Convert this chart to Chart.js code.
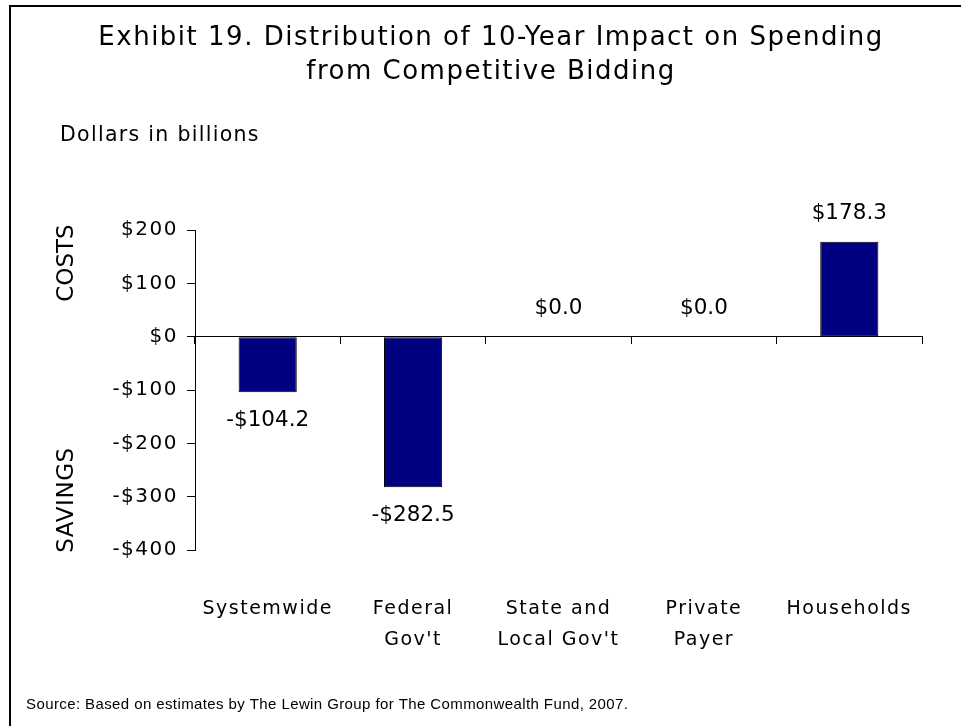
<!DOCTYPE html>
<html>
<head>
<meta charset="utf-8">
<script src="https://cdn.jsdelivr.net/npm/chart.js@4.4.1/dist/chart.umd.min.js"></script>
<style>
  html, body { margin: 0; padding: 0; background: #fff; overflow: hidden; }
</style>
</head>
<body>
<canvas id="impactChart" width="961" height="726"></canvas>
<script>
// Data (dollars in billions)
const categories = ['Systemwide', ['Federal', "Gov't"], ['State and', "Local Gov't"], ['Private', 'Payer'], 'Households'];
const impact = [-104.2, -282.5, 0.0, 0.0, 178.3];
const yTicks = [-400, -300, -200, -100, 0, 100, 200];
const titleLines = ['Exhibit 19. Distribution of 10-Year Impact on Spending', 'from Competitive Bidding'];
const unitNote = 'Dollars in billions';
const sideLabels = ['COSTS', 'SAVINGS'];
const sourceNote = 'Source: Based on estimates by The Lewin Group for The Commonwealth Fund, 2007.';

const FONT = '"DejaVu Sans", Verdana, sans-serif';

function money(v, digits) {
    const s = '$' + Math.abs(v).toFixed(digits);
    return v < 0 ? '-' + s : s;
}

// frame, side notes, source line and value labels
const notesPlugin = {
    id: 'notes',
    beforeDraw(chart) {
        chart.ctx.letterSpacing = '1.5px';
    },
    afterDatasetsDraw(chart) {
        const ctx = chart.ctx;
        ctx.save();
        ctx.letterSpacing = '0px';
        ctx.font = '21.5px ' + FONT;
        ctx.fillStyle = '#000';
        ctx.textAlign = 'center';
        ctx.textBaseline = 'middle';
        chart.getDatasetMeta(0).data.forEach((bar, i) => {
            const v = impact[i];
            const y = v >= 0 ? bar.y - 28 : bar.y + 28;
            ctx.fillText(money(v, 1), bar.x, y);
        });
        ctx.restore();
    },
    afterDraw(chart) {
        const ctx = chart.ctx;
        ctx.save();
        ctx.fillStyle = '#000';
        ctx.fillRect(9, 5, 2, chart.height);
        ctx.fillRect(9, 5, chart.width, 2);

        ctx.textBaseline = 'middle';
        ctx.textAlign = 'left';
        ctx.letterSpacing = '1.3px';
        ctx.font = '20.5px ' + FONT;
        ctx.fillText(unitNote, 60, 136);

        ctx.textAlign = 'center';
        ctx.font = '23px ' + FONT;
        [[sideLabels[0], 263, '0px'], [sideLabels[1], 500, '0.6px']].forEach(([txt, cy, sp]) => {
            ctx.save();
            ctx.letterSpacing = sp;
            ctx.translate(67, cy);
            ctx.rotate(-Math.PI / 2);
            ctx.fillText(txt, 0, 0);
            ctx.restore();
        });

        ctx.textAlign = 'left';
        ctx.letterSpacing = '0.4px';
        ctx.font = '15px "Liberation Sans", Arial, sans-serif';
        ctx.fillText(sourceNote, 26, 705);
        ctx.restore();
    }
};

new Chart(document.getElementById('impactChart'), {
    type: 'bar',
    data: {
        labels: categories,
        datasets: [{
            data: impact,
            backgroundColor: '#000080',
            borderColor: '#000',
            borderWidth: 1,
            borderSkipped: false,
            barPercentage: 0.4,
            categoryPercentage: 1
        }]
    },
    options: {
        responsive: false,
        devicePixelRatio: 1,
        animation: false,
        layout: { padding: { left: 60, right: 39, top: 0, bottom: 0 } },
        plugins: {
            legend: { display: false },
            tooltip: { enabled: false },
            title: {
                display: true,
                text: titleLines,
                color: '#000',
                font: { family: FONT, size: 26, weight: 'normal', lineHeight: 1.31 },
                padding: { top: 21, bottom: 141 }
            }
        },
        scales: {
            x: {
                position: { y: 0 },
                offset: true,
                ticks: { display: false },
                grid: { offset: true, drawOnChartArea: false, tickLength: 7, color: '#000' },
                border: { display: true, color: '#000', width: 1 }
            },
            x2: {
                type: 'category',
                position: 'bottom',
                offset: true,
                grid: { display: false, drawTicks: false, tickLength: 0 },
                border: { display: false },
                ticks: {
                    color: '#000',
                    padding: 44,
                    font: { family: FONT, size: 19, lineHeight: 1.6 }
                },
                afterFit(scale) { scale.height = 176; }
            },
            y: {
                min: yTicks[0],
                max: yTicks[yTicks.length - 1],
                afterBuildTicks(scale) {
                    scale.ticks = yTicks.map(v => ({ value: v }));
                },
                afterFit(scale) { scale.width = 135; },
                ticks: {
                    color: '#000',
                    padding: 9,
                    font: { family: FONT, size: 20 },
                    callback: v => money(v, 0)
                },
                grid: { drawOnChartArea: false, tickLength: 8, color: '#000' },
                border: { display: true, color: '#000', width: 1 }
            }
        }
    },
    plugins: [notesPlugin]
});
</script>
</body>
</html>
